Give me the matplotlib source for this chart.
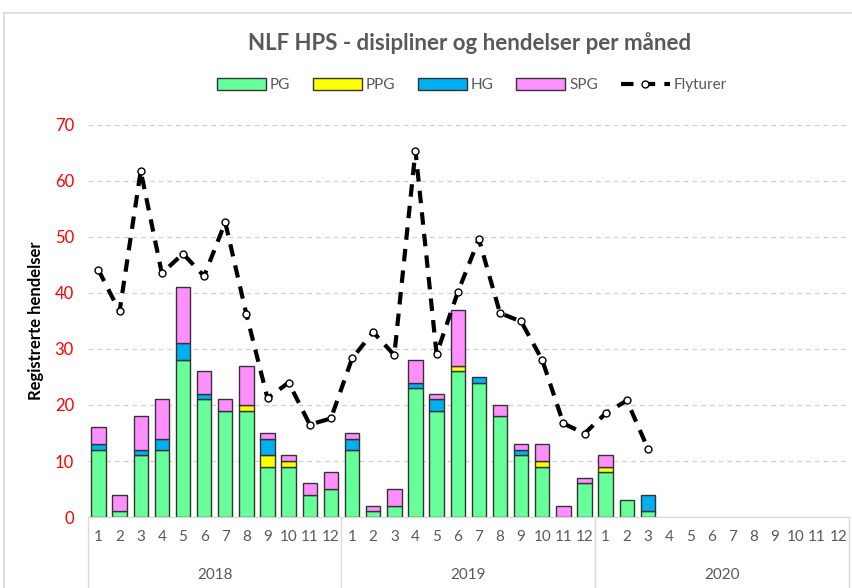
import matplotlib.pyplot as plt
from matplotlib.lines import Line2D
import numpy as np

plt.rcParams['font.family'] = ['Lato', 'DejaVu Sans']

# Months 2018-01 .. 2020-12
years = ["2018", "2019", "2020"]
months = [str(m) for m in range(1, 13)]

pg = [12, 1, 11, 12, 28, 21, 19, 19, 9, 9, 4, 5,
      12, 1, 2, 23, 19, 26, 24, 18, 11, 9, 0, 6,
      8, 3, 1, 0, 0, 0, 0, 0, 0, 0, 0, 0]
ppg = [0, 0, 0, 0, 0, 0, 0, 1, 2, 1, 0, 0,
       0, 0, 0, 0, 0, 1, 0, 0, 0, 1, 0, 0,
       1, 0, 0, 0, 0, 0, 0, 0, 0, 0, 0, 0]
hg = [1, 0, 1, 2, 3, 1, 0, 0, 3, 0, 0, 0,
      2, 0, 0, 1, 2, 0, 1, 0, 1, 0, 0, 0,
      0, 0, 3, 0, 0, 0, 0, 0, 0, 0, 0, 0]
spg = [3, 3, 6, 7, 10, 4, 2, 7, 1, 1, 2, 3,
       1, 1, 3, 4, 1, 10, 0, 2, 1, 3, 2, 1,
       2, 0, 0, 0, 0, 0, 0, 0, 0, 0, 0, 0]
flyturer = [44.1, 36.7, 61.8, 43.5, 47.0, 43.0, 52.6, 36.2, 21.2, 24.0, 16.5, 17.6,
            28.3, 33.0, 28.9, 65.4, 29.1, 40.1, 49.6, 36.4, 34.9, 28.0, 16.7, 14.9,
            18.5, 20.8, 12.2]

series = [("PG", pg, "#66FF99"), ("PPG", ppg, "#FFFF00"),
          ("HG", hg, "#00B0F0"), ("SPG", spg, "#FF8FFF")]

fig = plt.figure(figsize=(8.53, 5.88), dpi=100)
ax = fig.add_axes([0.103, 0.1207, 0.892, 0.667])

x = np.arange(36)
bottom = np.zeros(36)
handles = []
for name, vals, col in series:
    vals = np.array(vals, dtype=float)
    shown = np.where(vals > 0, vals, np.nan)  # skip empty segments
    b = ax.bar(x, shown, bottom=bottom, width=0.68, color=col,
               edgecolor="#333333", linewidth=1.0, label=name, zorder=2)
    bottom += vals
    handles.append(b)

ln, = ax.plot(np.arange(len(flyturer)), flyturer, color="black", linestyle=(0, (3, 2.2)),
              linewidth=3, marker="o", markersize=5, markerfacecolor="white",
              markeredgecolor="black", markeredgewidth=1, label="Flyturer", zorder=3)
handles.append(ln)

ax.set_xlim(-0.5, 35.5)
ax.set_ylim(0, 70)
ax.set_yticks(range(0, 71, 10))
ax.tick_params(axis="y", labelcolor="red", labelsize=12, length=0, pad=10)
ax.yaxis.grid(True, color="#d0d0d0", linestyle=(0, (4, 3)), linewidth=0.9, zorder=0)
ax.set_axisbelow(True)
for s in ["top", "right", "left"]:
    ax.spines[s].set_visible(False)
ax.spines["bottom"].set_color("#d9d9d9")

ax.set_xticks(x)
ax.set_xticklabels(months * 3, fontsize=11, color="#595959")
ax.tick_params(axis="x", length=0, pad=9)

# year labels and group separators
trans = ax.get_xaxis_transform()
for i, yr in enumerate(years):
    ax.text(i * 12 + 5.5, -0.148, yr, transform=trans, ha="center", va="center",
            fontsize=11, color="#595959")
for xs in [-0.5, 11.5, 23.5, 35.5]:
    ax.plot([xs, xs], [0, -0.2], transform=trans, color="#d9d9d9",
            linewidth=1, clip_on=False)

ax.set_ylabel("Registrerte hendelser", fontsize=12, fontweight="bold", labelpad=8)

fig.text(0.551, 0.927, "NLF HPS - disipliner og hendelser per måned",
         ha="center", va="center", fontsize=16, fontweight="bold", color="#595959")

fig.legend(handles=handles, labels=["PG", "PPG", "HG", "SPG", "Flyturer"],
           loc="center", bbox_to_anchor=(0.553, 0.855), ncol=5, frameon=False,
           fontsize=11, handlelength=3.2, handleheight=0.8, columnspacing=1.5,
           handletextpad=0.25, labelcolor="#595959")

# chart area border (partially visible)
fig.add_artist(Line2D([4 / 853, 1], [1 - 13 / 588, 1 - 13 / 588],
                      transform=fig.transFigure, color="#d9d9d9", linewidth=1.2))
fig.add_artist(Line2D([4 / 853, 4 / 853], [0, 1 - 13 / 588],
                      transform=fig.transFigure, color="#d9d9d9", linewidth=1.2))

fig.savefig("out.png", dpi=100)
